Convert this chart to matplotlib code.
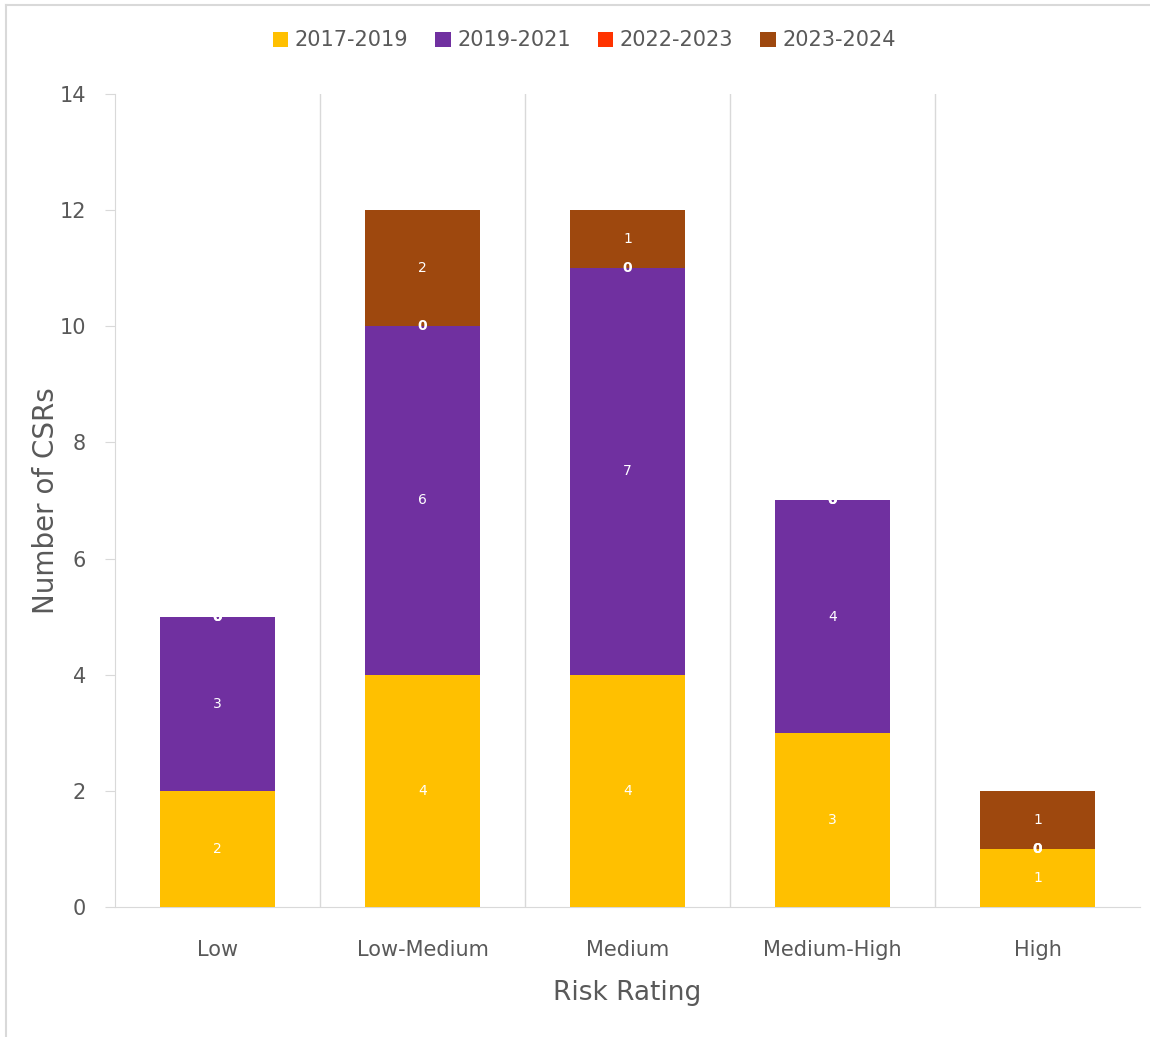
import matplotlib
matplotlib.use("Agg")
import matplotlib.pyplot as plt
import numpy as np
from matplotlib.lines import Line2D

categories = ["Low", "Low-Medium", "Medium", "Medium-High", "High"]
series_names = ["2017-2019", "2019-2021", "2022-2023", "2023-2024"]
v_2017_2019 = [2, 4, 4, 3, 1]
v_2019_2021 = [3, 6, 7, 4, 0]
v_2022_2023 = [0, 0, 0, 0, 0]
v_2023_2024 = [0, 2, 1, 0, 1]
colors = ["#FFC000", "#7030A0", "#FF3300", "#9E480E"]

series = [v_2017_2019, v_2019_2021, v_2022_2023, v_2023_2024]

plt.rcParams['font.family'] = ["DejaVu Sans"]

fig = plt.figure(figsize=(11.5, 10.37), dpi=100)
ax = fig.add_axes([0.1, 0.1254, 0.8913, 0.784])

x = np.arange(len(categories))
bottom = np.zeros(len(categories))
handles = []
for name, vals, c in zip(series_names, series, colors):
    vals = np.array(vals, dtype=float)
    b = ax.bar(x, vals, 0.56, bottom=bottom, color=c, label=name, zorder=3)
    handles.append(b)
    for xi, v, bt in zip(x, vals, bottom):
        ax.text(xi, bt + v / 2, f"{int(v)}", ha="center", va="center",
                color="white", fontsize=10, zorder=5,
                fontweight="bold" if v == 0 else "normal")
    bottom += vals

ax.set_xlim(-0.5, len(categories) - 0.5)
ax.set_ylim(0, 14)
ax.set_yticks(range(0, 15, 2))
ax.set_xticks(x)
ax.set_xticklabels(categories, fontsize=15, color="#595959")
for lab in ax.get_yticklabels():
    lab.set_fontsize(15)
    lab.set_color("#595959")
ax.tick_params(axis="x", length=0, pad=24)
ax.tick_params(axis="y", length=7, color="#D9D9D9", pad=14)

# vertical gridlines between categories
for b in np.arange(0.5, len(categories) - 0.5, 1):
    ax.axvline(b, color="#D9D9D9", lw=1, zorder=0)

for s in ["top", "right"]:
    ax.spines[s].set_visible(False)
for s in ["left", "bottom"]:
    ax.spines[s].set_color("#D9D9D9")

ax.set_ylabel("Number of CSRs", fontsize=20, color="#595959")
ax.yaxis.set_label_coords(-0.054, 0.5)
ax.set_xlabel("Risk Rating", fontsize=19, color="#595959", labelpad=14)

fig.legend(handles=handles, labels=series_names, loc="center",
           bbox_to_anchor=(0.508, 0.961), ncol=4, frameon=False,
           prop={"size": 15}, labelcolor="#595959",
           handlelength=0.75, handleheight=0.75, handletextpad=0.3,
           columnspacing=1.3)

fig.lines.append(Line2D([0.0055, 1.0], [0.9952, 0.9952], transform=fig.transFigure,
                        color="#D9D9D9", lw=1.5))
fig.lines.append(Line2D([0.0055, 0.0055], [0.0, 0.9952], transform=fig.transFigure,
                        color="#D9D9D9", lw=1.5))

fig.savefig("out.png", dpi=100)
